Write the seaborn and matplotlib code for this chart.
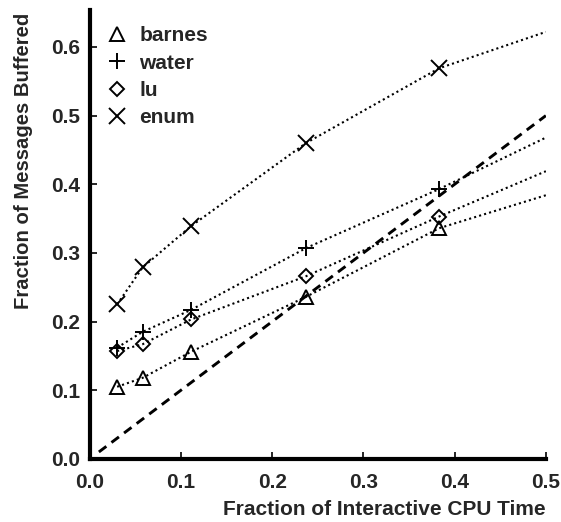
import numpy as np
import pandas as pd
import matplotlib
matplotlib.use("Agg")
import matplotlib.pyplot as plt
from matplotlib.lines import Line2D
import seaborn as sns

# Measured points (fraction of interactive CPU time)
cpu_time = [0.030, 0.058, 0.111, 0.237, 0.383]
# Curve extension to the right edge of the plot
curve_end_x = 0.5

barnes = [0.105, 0.118, 0.156, 0.236, 0.336]
water = [0.162, 0.185, 0.217, 0.307, 0.393]
lu = [0.157, 0.167, 0.203, 0.266, 0.353]
enum = [0.225, 0.279, 0.339, 0.460, 0.569]

curve_end_y = {"barnes": 0.384, "water": 0.468, "lu": 0.419, "enum": 0.622}

series_names = ["barnes", "water", "lu", "enum"]
series_values = {"barnes": barnes, "water": water, "lu": lu, "enum": enum}
series_markers = {"barnes": "^", "water": "+", "lu": "D", "enum": "x"}
marker_sizes = {"barnes": 10, "water": 11, "lu": 7.5, "enum": 11}

reference_x = [0.01, 0.5]

xticks = [0.0, 0.1, 0.2, 0.3, 0.4, 0.5]
yticks = [0.0, 0.1, 0.2, 0.3, 0.4, 0.5, 0.6]

sns.set_theme(style="white")
plt.rcParams["font.family"] = ["Liberation Sans", "DejaVu Sans"]

fig = plt.figure(figsize=(5.61, 5.22), dpi=100)
ax = fig.add_axes([0.160, 0.121, 0.813, 0.860])

rows = []
for name in series_names:
    xs = cpu_time + [curve_end_x]
    ys = series_values[name] + [curve_end_y[name]]
    for x, y in zip(xs, ys):
        rows.append({"series": name, "cpu": x, "buffered": y})
df = pd.DataFrame(rows)

for name in series_names:
    sub = df[df["series"] == name]
    sns.lineplot(
        data=sub, x="cpu", y="buffered", ax=ax,
        color="black", linestyle=(0, (1, 1.5)), linewidth=1.5,
        marker=series_markers[name], markersize=marker_sizes[name],
        markerfacecolor="none", markeredgecolor="black", markeredgewidth=1.4,
        markevery=list(range(len(cpu_time))), sort=True, estimator=None,
    )

# y = x reference line
ref = pd.DataFrame({"cpu": reference_x, "buffered": reference_x})
sns.lineplot(data=ref, x="cpu", y="buffered", ax=ax, color="black",
             linestyle=(0, (3.2, 2.2)), linewidth=2.1, estimator=None)

ax.set_xlim(0, 0.5)
ax.set_ylim(0, 0.654)
ax.set_xticks(xticks)
ax.set_yticks(yticks)
ax.set_xticklabels([f"{t:.1f}" for t in xticks], fontsize=15, fontweight="bold")
ax.set_yticklabels([f"{t:.1f}" for t in yticks], fontsize=15, fontweight="bold")
ax.tick_params(axis="both", direction="in", length=5, width=1.2, color="black",
               bottom=True, left=True)
ax.tick_params(axis="x", pad=10)
ax.tick_params(axis="y", pad=7)
ax.set_xlabel("Fraction of Interactive CPU Time", fontsize=15, fontweight="bold")
ax.set_ylabel("Fraction of Messages Buffered", fontsize=14.6, fontweight="bold")
ax.xaxis.set_label_coords(0.646, -0.091)
ax.yaxis.set_label_coords(-0.124, 0.664)

for side in ["top", "right"]:
    ax.spines[side].set_visible(False)
for side in ["left", "bottom"]:
    ax.spines[side].set_color("black")
    ax.spines[side].set_linewidth(3)

handles = [
    Line2D([], [], linestyle="none", marker=series_markers[n], markersize=marker_sizes[n],
           markerfacecolor="none", markeredgecolor="black", markeredgewidth=1.4)
    for n in series_names
]
leg = ax.legend(handles, series_names, loc="upper left", frameon=False,
                bbox_to_anchor=(-0.008, 1.005), handletextpad=0.45, labelspacing=0.4,
                prop={"size": 15, "weight": "bold"}, handlelength=1.2)

fig.savefig("out.png", dpi=100)
